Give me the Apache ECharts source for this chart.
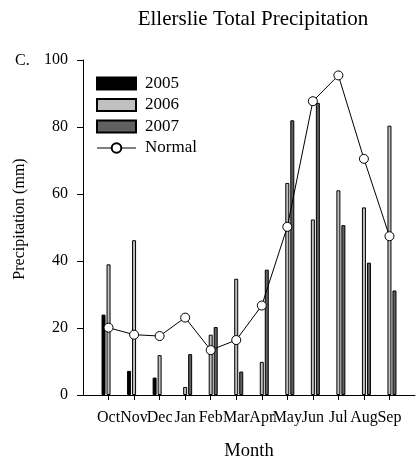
<!DOCTYPE html>
<html>
<head>
<meta charset="utf-8">
<script src="https://cdn.jsdelivr.net/npm/echarts@6/dist/echarts.min.js"></script>
<style>
  html, body { margin: 0; padding: 0; background: #fff; }
  #chart { width: 418px; height: 466px; }
</style>
</head>
<body>
<div id="chart"></div>
<script>
// month labels, Oct..Sep (water year)
const months = ['Oct', 'Nov', 'Dec', 'Jan', 'Feb', 'Mar', 'Apr', 'May', 'Jun', 'Jul', 'Aug', 'Sep'];
const p2005 = [24.0, 7.2, 5.2, null, null, null, null, null, null, null, null, null];
const p2006 = [39.0, 46.2, 11.9, 2.4, 18.0, 34.7, 9.9, 63.3, 52.4, 61.1, 56.0, 80.4];
const p2007 = [null, null, null, 12.2, 20.3, 7.0, 37.4, 82.0, 87.2, 50.7, 39.5, 31.2];
const normal = [20.1, 18.0, 17.6, 23.1, 13.4, 16.4, 26.7, 50.2, 87.7, 95.4, 70.5, 47.4];
const yTicks = [0, 20, 40, 60, 80, 100];

const serif = "'Liberation Serif', 'Times New Roman', serif";

// blank slot at each end so the axis runs past Oct and Sep
const cats = [''].concat(months, ['']);
const pad = arr => [null].concat(arr, [null]);

const myChart = echarts.init(document.getElementById('chart'));

const barStyle = fill => ({ color: fill, borderColor: '#000', borderWidth: 1 });

const option = {
  animation: false,
  grid: { left: 83, right: 0, top: 60, bottom: 69 },
  graphic: [
    { type: 'text', x: 253, y: 19,
      style: { text: 'Ellerslie Total Precipitation', font: '21px ' + serif, fill: '#000', align: 'center', verticalAlign: 'middle' } },
    { type: 'text', x: 15, y: 61,
      style: { text: 'C.', font: '16px ' + serif, fill: '#000', align: 'left', verticalAlign: 'middle' } },
    { type: 'text', x: 20, y: 219, rotation: Math.PI / 2,
      style: { text: 'Precipitation (mm)', font: '16px ' + serif, fill: '#000', align: 'center', verticalAlign: 'middle' } }
  ],
  legend: {
    orient: 'vertical',
    left: 91,
    top: 70,
    itemWidth: 39,
    itemHeight: 12,
    itemGap: 4.5,
    lineStyle: { width: 1 },
    textStyle: { fontFamily: serif, fontSize: 17, color: '#000', padding: [0, 0, 0, 4] },
    data: [
      { name: '2005', icon: 'rect' },
      { name: '2006', icon: 'rect' },
      { name: '2007', icon: 'rect' },
      { name: 'Normal' }
    ]
  },
  xAxis: {
    type: 'category',
    data: cats,
    boundaryGap: false,
    name: 'Month',
    nameLocation: 'middle',
    nameGap: 47,
    nameTextStyle: { fontFamily: serif, fontSize: 18.5, color: '#000' },
    axisLine: { lineStyle: { color: '#000', width: 1 } },
    axisTick: { length: 5, lineStyle: { color: '#000' }, interval: (i, v) => v !== '' },
    axisLabel: { interval: 0, margin: 15, fontFamily: serif, fontSize: 16, color: '#000' },
    splitLine: { show: false }
  },
  yAxis: {
    type: 'value',
    min: yTicks[0],
    max: yTicks[yTicks.length - 1],
    interval: 20,
    axisLine: { show: true, lineStyle: { color: '#000', width: 1 } },
    axisTick: { show: true, length: 6, lineStyle: { color: '#000' } },
    axisLabel: { margin: 15, fontFamily: serif, fontSize: 16, color: '#000' },
    splitLine: { show: false }
  },
  series: [
    { name: '2005', type: 'bar', data: pad(p2005), barWidth: 4, barGap: '25%', itemStyle: barStyle('#000') },
    { name: '2006', type: 'bar', data: pad(p2006), barWidth: 4, barGap: '25%', itemStyle: barStyle('#c0c0c0') },
    { name: '2007', type: 'bar', data: pad(p2007), barWidth: 4, barGap: '25%', itemStyle: barStyle('#606060') },
    {
      name: 'Normal',
      type: 'line',
      data: pad(normal),
      symbol: 'circle',
      symbolSize: 9,
      showAllSymbol: true,
      lineStyle: { color: '#000', width: 1 },
      itemStyle: { color: '#fff', borderColor: '#000', borderWidth: 1 },
      z: 5
    }
  ]
};

option && myChart.setOption(option);
</script>
</body>
</html>
